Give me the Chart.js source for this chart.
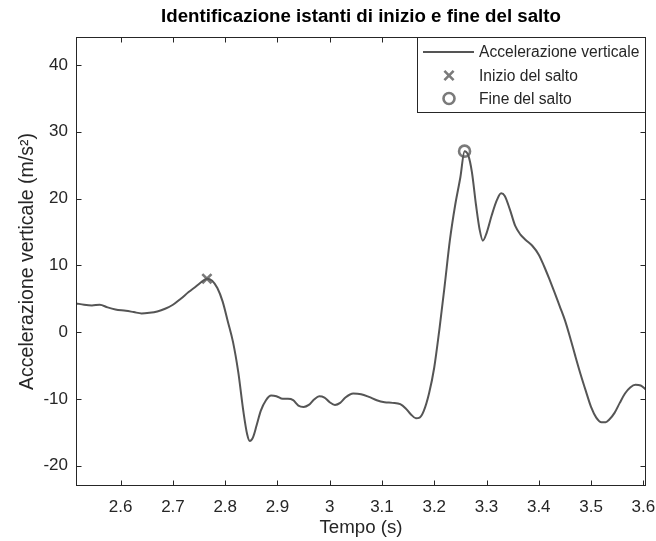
<!DOCTYPE html>
<html>
<head>
<meta charset="utf-8">
<script src="https://cdn.jsdelivr.net/npm/chart.js@4.4.1/dist/chart.umd.min.js"></script>
<style>
  html, body { margin: 0; padding: 0; background: #fff; }
</style>
</head>
<body>
<canvas id="salto" width="656" height="541"></canvas>
<script>
// dati
const tempo = [
  2.515, 2.53, 2.545, 2.56, 2.575, 2.59, 2.61, 2.625, 2.64, 2.655,
  2.67, 2.685, 2.70, 2.715, 2.73, 2.745, 2.756, 2.765, 2.775, 2.785,
  2.795, 2.805, 2.815, 2.825, 2.835, 2.842, 2.847, 2.853, 2.86, 2.868,
  2.878, 2.888, 2.898, 2.91, 2.92, 2.93, 2.94, 2.95, 2.96, 2.97,
  2.98, 2.99, 3.0, 3.01, 3.02, 3.03, 3.045, 3.06, 3.075, 3.09,
  3.105, 3.12, 3.135, 3.145, 3.155, 3.165, 3.172, 3.18, 3.19, 3.2,
  3.21, 3.22, 3.23, 3.24, 3.25, 3.258, 3.265, 3.272, 3.28, 3.287,
  3.293, 3.30, 3.31, 3.32, 3.328, 3.335, 3.345, 3.355, 3.365, 3.375,
  3.388, 3.40, 3.41, 3.42, 3.43, 3.44, 3.45, 3.46, 3.47, 3.48,
  3.49, 3.50, 3.51, 3.52, 3.528, 3.535, 3.545, 3.555, 3.565, 3.575,
  3.585, 3.595, 3.605
];
const accelerazione = [
  4.3, 4.1, 4.0, 4.1, 3.7, 3.4, 3.2, 3.0, 2.8, 2.9,
  3.1, 3.5, 4.1, 5.0, 6.0, 6.9, 7.6, 8.0, 7.7, 6.6,
  4.6, 1.6, -1.5, -6.0, -12.0, -15.3, -16.3, -15.8, -14.0, -11.8,
  -10.2, -9.5, -9.6, -10.0, -10.0, -10.2, -11.0, -11.2, -10.9, -10.1,
  -9.6, -9.8, -10.5, -10.9, -10.6, -9.8, -9.2, -9.3, -9.7, -10.2,
  -10.5, -10.6, -10.8, -11.4, -12.3, -12.9, -12.8, -11.8, -9.2, -5.3,
  0.5, 7.0, 13.8, 19.0, 23.2, 27.1, 26.5, 24.0, 19.0, 15.3,
  13.7, 14.8, 17.5, 19.8, 20.8, 20.4, 18.3, 15.9, 14.6, 13.8,
  12.9, 11.6, 9.9, 8.0, 6.0, 3.9, 1.8, -0.8, -3.6, -6.3,
  -8.8, -11.2, -12.8, -13.5, -13.5, -13.1, -12.1, -10.6, -9.2, -8.3,
  -7.9, -8.0, -8.6
];
const inizioT = [2.765];
const inizioA = [8.0];
const fineT = [3.258];
const fineA = [27.1];

const xTicks = [2.6, 2.7, 2.8, 2.9, 3.0, 3.1, 3.2, 3.3, 3.4, 3.5, 3.6];
const yTicks = [-20, -10, 0, 10, 20, 30, 40];

const FONT = "'Liberation Sans', Arial, sans-serif";
const AXIS_COLOR = "#262626";
const LINE_COLOR = "#555555";
const MARK_COLOR = "#7a7a7a";

function punti(xs, ys) {
    return xs.map((x, i) => ({ x: x, y: ys[i] }));
}

// titolo, riquadro degli assi con tacche interne e legenda stile MATLAB
const matlabLook = {
    id: "matlabLook",
    afterDraw(chart) {
        const ctx = chart.ctx;
        const a = chart.chartArea;
        const sx = chart.scales.x;
        const sy = chart.scales.y;
        const L = Math.round(a.left) + 0.5, R = Math.round(a.right) - 0.5;
        const T = Math.round(a.top) + 0.5, B = Math.round(a.bottom) - 0.5;

        ctx.save();
        ctx.strokeStyle = AXIS_COLOR;
        ctx.lineWidth = 1;
        ctx.strokeRect(L, T, R - L, B - T);

        ctx.beginPath();
        sx.ticks.forEach(t => {
            const px = Math.round(sx.getPixelForValue(t.value)) + 0.5;
            ctx.moveTo(px, B); ctx.lineTo(px, B - 5);
            ctx.moveTo(px, T); ctx.lineTo(px, T + 5);
        });
        sy.ticks.forEach(t => {
            const py = Math.round(sy.getPixelForValue(t.value)) + 0.5;
            ctx.moveTo(L, py); ctx.lineTo(L + 5, py);
            ctx.moveTo(R, py); ctx.lineTo(R - 5, py);
        });
        ctx.stroke();

        // titolo
        ctx.fillStyle = "#000";
        ctx.font = "bold 18.7px " + FONT;
        ctx.textAlign = "center";
        ctx.textBaseline = "middle";
        ctx.fillText("Identificazione istanti di inizio e fine del salto", (a.left + a.right) / 2, 17);

        // legenda
        const lx = 417.5, ly = T, lw = R - 417.5, lh = 75;
        ctx.fillStyle = "#fff";
        ctx.fillRect(lx, ly, lw, lh);
        ctx.strokeStyle = AXIS_COLOR;
        ctx.strokeRect(lx, ly, lw, lh);

        const ds = chart.data.datasets;
        const rows = [52, 75.5, 98.5];
        ctx.font = "15.6px " + FONT;
        ctx.textAlign = "left";
        ds.forEach((d, i) => {
            const y = rows[i];
            if (i === 0) {
                ctx.strokeStyle = d.borderColor;
                ctx.lineWidth = d.borderWidth;
                ctx.beginPath();
                ctx.moveTo(423, y); ctx.lineTo(474, y);
                ctx.stroke();
            } else {
                ctx.strokeStyle = d.borderColor;
                ctx.fillStyle = "rgba(0,0,0,0)";
                ctx.lineWidth = d.pointBorderWidth;
                Chart.helpers.drawPoint(ctx, {
                    pointStyle: d.pointStyle,
                    radius: d.pointRadius,
                    borderWidth: d.pointBorderWidth,
                    rotation: 0
                }, 449, y);
            }
            ctx.fillStyle = AXIS_COLOR;
            ctx.fillText(d.label, 479, y + 1);
        });
        ctx.restore();
    }
};

const ctx = document.getElementById("salto").getContext("2d");

new Chart(ctx, {
    type: "scatter",
    data: {
        datasets: [
            {
                label: "Accelerazione verticale",
                data: punti(tempo, accelerazione),
                showLine: true,
                borderColor: LINE_COLOR,
                borderWidth: 2,
                pointRadius: 0,
                cubicInterpolationMode: "monotone"
            },
            {
                label: "Inizio del salto",
                data: punti(inizioT, inizioA),
                pointStyle: "crossRot",
                pointRadius: 6.5,
                pointBorderWidth: 2.6,
                borderColor: MARK_COLOR,
                backgroundColor: "rgba(0,0,0,0)"
            },
            {
                label: "Fine del salto",
                data: punti(fineT, fineA),
                pointStyle: "circle",
                pointRadius: 5.5,
                pointBorderWidth: 2.6,
                borderColor: MARK_COLOR,
                backgroundColor: "rgba(0,0,0,0)"
            }
        ]
    },
    options: {
        responsive: false,
        animation: false,
        layout: { padding: { top: 37, right: 10, left: 0, bottom: 0 } },
        plugins: {
            legend: { display: false },
            title: { display: false },
            tooltip: { enabled: false }
        },
        scales: {
            x: {
                type: "linear",
                min: 2.5145,
                max: 3.6052,
                afterBuildTicks: s => { s.ticks = xTicks.map(v => ({ value: v })); },
                afterFit: s => { s.height = 55; s.paddingLeft = 0; s.paddingRight = 0; },
                grid: { display: false, drawTicks: false },
                border: { display: false },
                ticks: {
                    padding: 11,
                    color: AXIS_COLOR,
                    font: { family: FONT, size: 17 },
                    maxRotation: 0,
                    autoSkip: false,
                    callback: v => String(Number(v.toFixed(1)))
                },
                title: {
                    display: true,
                    text: "Tempo (s)",
                    color: AXIS_COLOR,
                    font: { family: FONT, size: 18.7 },
                    padding: { top: 0, bottom: 2 }
                }
            },
            y: {
                min: -23.05,
                max: 44.2,
                afterBuildTicks: s => { s.ticks = yTicks.map(v => ({ value: v })); },
                afterFit: s => { s.width = 76; s.paddingTop = 0; s.paddingBottom = 0; },
                grid: { display: false, drawTicks: false },
                border: { display: false },
                ticks: {
                    padding: 8,
                    color: AXIS_COLOR,
                    font: { family: FONT, size: 17 },
                    autoSkip: false,
                    callback: v => String(v)
                },
                title: {
                    display: true,
                    text: "Accelerazione verticale (m/s²)",
                    color: AXIS_COLOR,
                    font: { family: FONT, size: 19.5 },
                    padding: { top: 16, bottom: 0 }
                }
            }
        }
    },
    plugins: [matlabLook]
});
</script>
</body>
</html>
